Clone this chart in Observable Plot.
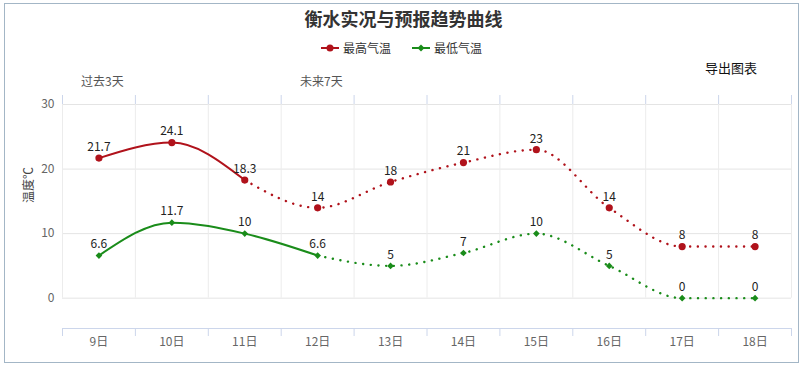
<!DOCTYPE html>
<html><head><meta charset="utf-8">
<script src="https://cdn.jsdelivr.net/npm/d3@7"></script>
<script src="https://cdn.jsdelivr.net/npm/@observablehq/plot@0.6"></script>
<style>
body{margin:0;background:#fff;font-family:'Noto Sans CJK SC',sans-serif;}
#wrap{position:relative;width:807px;height:369px;overflow:hidden;}
#border{position:absolute;left:4px;top:3px;width:795px;height:360px;border:1px solid #a3b6c6;box-sizing:border-box;}
.t{position:absolute;white-space:nowrap;line-height:1;}
#chart{position:absolute;left:0;top:0;}
</style></head>
<body>
<div id="wrap">
  <div id="chart"></div>
  <div id="border"></div>
  <div class="t" style="left:0;width:807px;text-align:center;top:9px;font-size:18px;font-weight:bold;color:#333;">衡水实况与预报趋势曲线</div>
  <div class="t" style="left:321px;top:42px;font-size:12px;color:#333;display:flex;align-items:center;">
    <svg width="18" height="12"><line x1="0" y1="6" x2="18" y2="6" stroke="#b0121b" stroke-width="2"/><circle cx="9" cy="6" r="3.5" fill="#b0121b"/></svg>
    <span style="margin-left:4px">最高气温</span>
    <svg width="18" height="12" style="margin-left:21px"><line x1="0" y1="6" x2="18" y2="6" stroke="#1a8c1a" stroke-width="2"/><path d="M9,2.5L12.5,6L9,9.5L5.5,6Z" fill="#1a8c1a"/></svg>
    <span style="margin-left:4px">最低气温</span>
  </div>
  <div class="t" style="left:705px;top:61px;font-size:13px;color:#111;">导出图表</div>
  <div class="t" style="left:81px;top:75px;font-size:12px;color:#555;">过去3天</div>
  <div class="t" style="left:300px;top:75px;font-size:12px;color:#555;">未来7天</div>
</div>
<script>
const days = ["9日","10日","11日","12日","13日","14日","15日","16日","17日","18日"];
const maxTemp = [21.7, 24.1, 18.3, 14, 18, 21, 23, 14, 8, 8];
const minTemp = [6.6, 11.7, 10, 6.6, 5, 7, 10, 5, 0, 0];
const maxObservedCount = 3; // 9日-11日 solid
const minObservedCount = 4; // 9日-12日 solid
const yTicks = [0, 10, 20, 30];

const RED = "#b0121b", GREEN = "#1a8c1a";
const maxRows = maxTemp.map((v, i) => ({i, v}));
const minRows = minTemp.map((v, i) => ({i, v}));
const bounds = d3.range(days.length + 1).map(k => k - 0.5);
const yMin = -4.7, yMax = 31.4;

const dotted = {strokeDasharray: "0.1 7.6", strokeLinecap: "round", strokeWidth: 2.4};

const chart = Plot.plot({
  width: 807, height: 369,
  marginLeft: 62, marginRight: 16, marginTop: 95, marginBottom: 41,
  style: {fontFamily: "'Noto Sans CJK SC', sans-serif", fontSize: "12px", background: "transparent"},
  x: {type: "linear", domain: [-0.5, days.length - 0.5], label: null},
  y: {domain: [yMin, yMax], label: null},
  marks: [
    Plot.ruleY(yTicks, {stroke: "#e4e4e4", strokeWidth: 1}),
    Plot.ruleX(bounds, {y1: 0, y2: 30, stroke: "#ececec"}),
    Plot.ruleX(bounds, {y1: 30, y2: yMax, stroke: "#ccd6eb"}),
    Plot.ruleY([yMin], {stroke: "#ccd6eb"}),
    Plot.axisX({ticks: bounds, tickSize: 8, tickFormat: () => "", stroke: "#ccd6eb", label: null}),
    Plot.axisX({ticks: d3.range(days.length), tickSize: 0, tickPadding: 9, tickFormat: i => days[i], fill: "#666", fontSize: 12, label: null}),
    Plot.axisY({ticks: yTicks, tickSize: 0, tickPadding: 8, fill: "#666", fontSize: 12, label: null}),
    Plot.text(["温度℃"], {frameAnchor: "left", dx: -33, dy: -9, rotate: -90, fill: "#444", fontSize: 12}),
    Plot.line(maxRows.slice(0, maxObservedCount), {x: "i", y: "v", curve: "monotone-x", stroke: RED, strokeWidth: 2}),
    Plot.line(maxRows.slice(maxObservedCount - 1), {x: "i", y: "v", curve: "monotone-x", stroke: RED, ...dotted}),
    Plot.line(minRows.slice(0, minObservedCount), {x: "i", y: "v", curve: "monotone-x", stroke: GREEN, strokeWidth: 2}),
    Plot.line(minRows.slice(minObservedCount - 1), {x: "i", y: "v", curve: "monotone-x", stroke: GREEN, ...dotted}),
    Plot.dot(maxRows, {x: "i", y: "v", r: 3.6, fill: RED}),
    Plot.dot(minRows, {x: "i", y: "v", r: 3, symbol: "diamond2", fill: GREEN}),
    Plot.text(maxRows, {x: "i", y: "v", text: d => String(d.v), dy: -11, fill: "#222", fontSize: 12}),
    Plot.text(minRows, {x: "i", y: "v", text: d => String(d.v), dy: -11, fill: "#222", fontSize: 12})
  ]
});
document.getElementById("chart").appendChild(chart);
</script>
</body></html>
